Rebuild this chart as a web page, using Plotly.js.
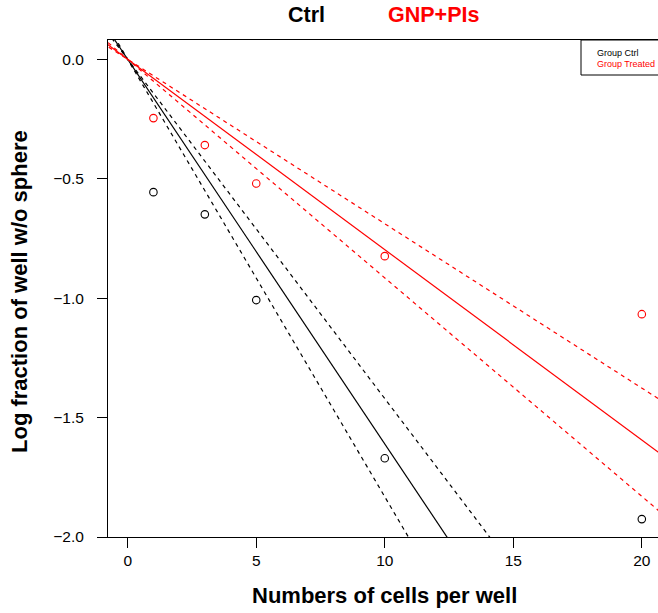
<!DOCTYPE html>
<html>
<head>
<meta charset="utf-8">
<script src="https://cdn.plot.ly/plotly-3.0.1.min.js"></script>
<style>
html, body { margin: 0; padding: 0; background: #fff; }
#chart { width: 658px; height: 613px; }
</style>
</head>
<body>
<div id="chart"></div>
<script>
// ---- data ----
const cellsPerWell = [1, 3, 5, 10, 20];
const ctrlLogFraction = [-0.556, -0.649, -1.008, -1.67, -1.925];
const treatedLogFraction = [-0.246, -0.359, -0.52, -0.824, -1.067];
// ELDA estimates: cells per sphere (estimate, lower, upper)
const ctrlEstimate = [6.21, 5.46, 7.04];
const treatedEstimate = [12.55, 10.93, 14.53];
const xTicks = [0, 5, 10, 15, 20];
const yTicks = [0, -0.5, -1, -1.5, -2];
const yTickLabels = ['0.0', '\u22120.5', '\u22121.0', '\u22121.5', '\u22122.0'];
const titleParts = ['Ctrl', 'GNP+PIs'];
const legendLabels = ['Group Ctrl', 'Group Treated'];

const RED = '#ff0000';
const BLACK = '#000000';
const lineX = [-1, 22];

function fitLine(est, color, dashed) {
  return {
    x: lineX,
    y: lineX.map(v => -v / est),
    mode: 'lines',
    type: 'scatter',
    hoverinfo: 'skip',
    showlegend: false,
    line: { color: color, width: 1.2, dash: dashed ? '4px,4px' : 'solid' }
  };
}

const traces = [
  fitLine(ctrlEstimate[0], BLACK, false),
  fitLine(ctrlEstimate[1], BLACK, true),
  fitLine(ctrlEstimate[2], BLACK, true),
  fitLine(treatedEstimate[0], RED, false),
  fitLine(treatedEstimate[1], RED, true),
  fitLine(treatedEstimate[2], RED, true),
  {
    x: cellsPerWell, y: ctrlLogFraction, mode: 'markers', type: 'scatter', showlegend: false,
    marker: { symbol: 'circle-open', size: 7.5, color: BLACK, line: { width: 1.1, color: BLACK } }
  },
  {
    x: cellsPerWell, y: treatedLogFraction, mode: 'markers', type: 'scatter', showlegend: false,
    marker: { symbol: 'circle-open', size: 7.5, color: RED, line: { width: 1.1, color: RED } }
  }
];

const FONT = 'Liberation Sans, Arial, Helvetica, sans-serif';
const L = 108, T = 40, W = 658, H = 613, B = 76;
const plotW = W - L, plotH = H - T - B;
const px2x = p => (p - L) / plotW;
const py2y = p => (H - B - p) / plotH;

const layout = {
  width: W, height: H,
  margin: { l: L, r: 0, t: T, b: B, pad: 0 },
  paper_bgcolor: '#fff', plot_bgcolor: '#fff',
  showlegend: false,
  font: { family: FONT, color: '#000' },
  xaxis: {
    range: [-0.767, 20.63],
    tickvals: xTicks, ticktext: xTicks.map(String),
    ticks: 'outside', ticklen: 10, tickwidth: 1, tickcolor: '#000',
    ticklabelstandoff: -1,
    showline: true, mirror: true, linecolor: '#000', linewidth: 1,
    showgrid: false, zeroline: false,
    tickfont: { size: 15.5, family: FONT, color: '#000' }
  },
  yaxis: {
    range: [-2.0, 0.081],
    tickvals: yTicks, ticktext: yTickLabels,
    ticks: 'outside', ticklen: 10, tickwidth: 1, tickcolor: '#000',
    ticklabelstandoff: 10,
    showline: true, mirror: false, linecolor: '#000', linewidth: 1,
    showgrid: false, zeroline: false,
    tickfont: { size: 15.5, family: FONT, color: '#000' }
  },
  shapes: [
    { type: 'rect', xref: 'paper', yref: 'paper', x0: px2x(581), x1: 1.2, y0: py2y(75), y1: 1,
      line: { color: '#000', width: 1 }, fillcolor: 'rgba(0,0,0,0)' }
  ],
  annotations: [
    { text: '<b>' + titleParts[0] + '</b>', xref: 'paper', yref: 'paper', x: px2x(306.5), y: py2y(15),
      xanchor: 'center', yanchor: 'middle', showarrow: false, font: { size: 21.5, color: BLACK, family: FONT } },
    { text: '<b>' + titleParts[1] + '</b>', xref: 'paper', yref: 'paper', x: px2x(433), y: py2y(15),
      xanchor: 'center', yanchor: 'middle', showarrow: false, font: { size: 21.5, color: RED, family: FONT } },
    { text: legendLabels[0], xref: 'paper', yref: 'paper', x: px2x(595), y: py2y(53),
      xanchor: 'left', yanchor: 'middle', showarrow: false, font: { size: 9, color: BLACK, family: FONT } },
    { text: legendLabels[1], xref: 'paper', yref: 'paper', x: px2x(595), y: py2y(63.5),
      xanchor: 'left', yanchor: 'middle', showarrow: false, font: { size: 9, color: RED, family: FONT } },
    { text: '<b>Numbers of cells per well</b>', xref: 'paper', yref: 'paper', x: px2x(384), y: py2y(595),
      xanchor: 'center', yanchor: 'middle', showarrow: false, font: { size: 22, color: BLACK, family: FONT } },
    { text: '<b>Log fraction of well w/o sphere</b>', xref: 'paper', yref: 'paper', x: px2x(19), y: py2y(292),
      xanchor: 'center', yanchor: 'middle', textangle: -90, showarrow: false, font: { size: 22, color: BLACK, family: FONT } }
  ]
};

Plotly.newPlot('chart', traces, layout, { staticPlot: true, displayModeBar: false });
</script>
</body>
</html>
